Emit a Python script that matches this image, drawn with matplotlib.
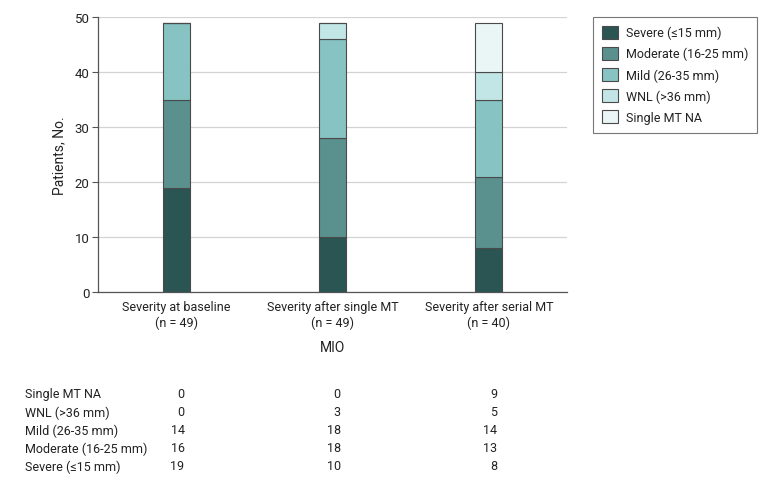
import matplotlib
matplotlib.use('Agg')
import matplotlib.pyplot as plt
import numpy as np

plt.rcParams['font.family'] = ['Roboto', 'DejaVu Sans']

## data
groups = ['Severity at baseline\n(n = 49)',
          'Severity after single MT\n(n = 49)',
          'Severity after serial MT\n(n = 40)']
levels = ['Severe (≤15 mm)', 'Moderate (16-25 mm)', 'Mild (26-35 mm)',
          'WNL (>36 mm)', 'Single MT NA']
severe = [19, 10, 8]
moderate = [16, 18, 13]
mild = [14, 18, 14]
wnl = [0, 3, 5]
single_na = [0, 0, 9]

colors = ['#2b5553', '#5a908e', '#86c3c2', '#c2e6e6', '#eaf5f5']

series = [severe, moderate, mild, wnl, single_na]
x = np.arange(len(groups))

fig = plt.figure(figsize=(7.8, 4.85), dpi=100)
ax = fig.add_axes([98/780, 1 - 293/485, (567 - 98)/780, (293 - 18)/485])

bottom = np.zeros(len(groups))
for vals, lab, c in zip(series, levels, colors):
    ax.bar(x, vals, width=0.173, bottom=bottom, color=c, edgecolor='#4a4a4a',
           linewidth=0.8, label=lab, zorder=3)
    bottom += np.array(vals)

ax.set_xlim(-0.5, 2.5)
ax.set_ylim(0, 50)
ax.set_yticks(np.arange(0, 51, 10))
ax.set_xticks(x)
ax.set_xticklabels(groups, fontsize=9, color='#222222', linespacing=1.25)
ax.tick_params(axis='x', length=0, pad=6)
ax.tick_params(axis='y', length=4, width=0.8, color='#555555', labelsize=9.5,
               labelcolor='#222222', pad=2)
ax.yaxis.grid(True, color='#d3d3d3', linewidth=0.9, zorder=0)
ax.set_axisbelow(True)
for s in ['top', 'right']:
    ax.spines[s].set_visible(False)
for s in ['left', 'bottom']:
    ax.spines[s].set_color('#555555')
    ax.spines[s].set_linewidth(0.9)

ax.set_ylabel('Patients, No.', fontsize=10, color='#222222', labelpad=6)
ax.set_xlabel('MIO', fontsize=10, color='#222222', labelpad=8)

handles, labels = ax.get_legend_handles_labels()
leg = fig.legend(handles, labels, loc='upper left',
                 bbox_to_anchor=(593/780, 1 - 18/485), frameon=True,
                 fancybox=False, fontsize=9, handlelength=1.3,
                 handleheight=1.2, handletextpad=0.6, labelspacing=0.6,
                 borderpad=0.7, borderaxespad=0)
leg.get_frame().set_edgecolor('#555555')
leg.get_frame().set_linewidth(0.8)
for t in leg.get_texts():
    t.set_color('#222222')

## table under the chart
rows = list(zip(levels, series))[::-1]
row_y = [395, 413, 431, 449, 467]
for (lab, vals), yy in zip(rows, row_y):
    fig.text(25/780, 1 - yy/485, lab, ha='left', va='center', fontsize=9,
             color='#222222')
    for i, v in enumerate(vals):
        ax.annotate(str(v), xy=(x[i], 1 - yy/485),
                    xycoords=('data', 'figure fraction'),
                    xytext=(6, 0), textcoords='offset points',
                    ha='right', va='center', fontsize=9, color='#222222',
                    annotation_clip=False)

fig.savefig('out.png', dpi=100)
